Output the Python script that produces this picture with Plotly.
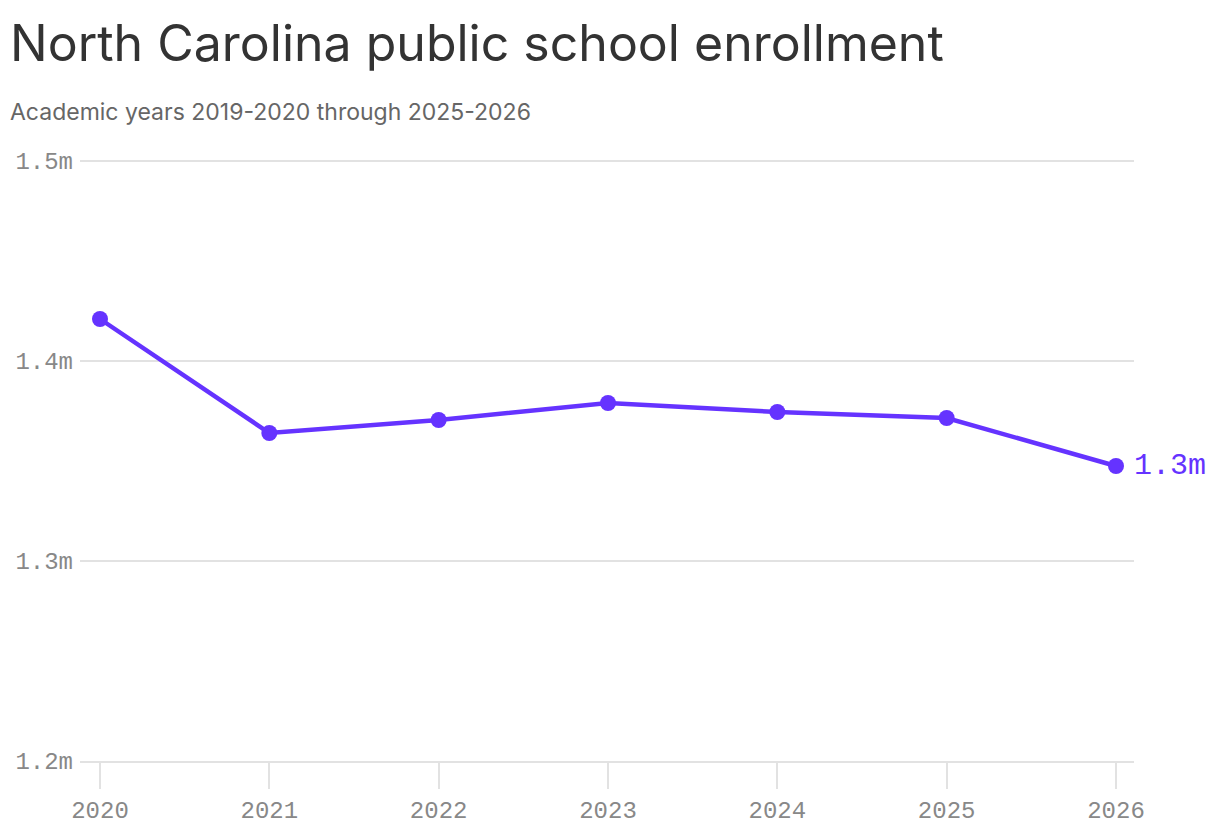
import plotly.graph_objects as go

years = [2020, 2021, 2022, 2023, 2024, 2025, 2026]
enrollment_m = [1.421, 1.364, 1.3705, 1.379, 1.3745, 1.3715, 1.3475]
y_ticks = [1.2, 1.3, 1.4, 1.5]
y_tick_text = ["1.2m", "1.3m", "1.4m", "1.5m"]
last_label = "1.3m"
title = "North Carolina public school enrollment"
subtitle = "Academic years 2019-2020 through 2025-2026"

PURPLE = "#6533FF"
GRID = "#e2e2e2"
MONO = "Liberation Mono"
OFF = 8  # page body margin
PADY = 3  # extra px at top so the top gridline is drawn
W, H = 1220, 830
L, R, T, B = 80 - OFF, 86 + OFF, 161 - OFF - PADY, 69 + OFF
pw = W - L - R
ph = H - T - B
dy = 0.3 * PADY / 600

fig = go.Figure()
fig.add_trace(go.Scatter(
    x=years, y=enrollment_m, mode="lines+markers",
    line=dict(color=PURPLE, width=4.5),
    marker=dict(color=PURPLE, size=16),
    cliponaxis=False, hoverinfo="skip",
))

fig.add_annotation(
    x=years[-1], y=enrollment_m[-1], text=last_label, showarrow=False,
    xanchor="left", yanchor="middle", xshift=16,
    font=dict(family=MONO, size=30, color=PURPLE),
)

fig.add_annotation(
    xref="paper", yref="paper", x=(0 - L) / pw, y=(H - B - (43 - OFF)) / ph,
    text=title, showarrow=False, xanchor="left", yanchor="middle",
    font=dict(family="Inter", size=50, color="#333333"),
)
fig.add_annotation(
    xref="paper", yref="paper", x=(0 - L) / pw, y=(H - B - (112 - OFF)) / ph,
    text=subtitle, showarrow=False, xanchor="left", yanchor="middle",
    font=dict(family="Inter", size=23, color="#666666"),
)

fig.update_layout(
    width=W, height=H,
    margin=dict(l=L, r=R, t=T, b=B, pad=0),
    paper_bgcolor="white", plot_bgcolor="white",
    showlegend=False,
    xaxis=dict(
        range=[2020 - 20 / (1016 / 6), 2026 + 18 / (1016 / 6)],
        tickmode="array", tickvals=years, ticktext=[str(y) for y in years],
        showgrid=False, zeroline=False,
        showline=True, linecolor=GRID, linewidth=2,
        ticks="outside", ticklen=26, tickwidth=2, tickcolor=GRID,
        tickfont=dict(family=MONO, size=24, color="#888888"),
        automargin=False,
    ),
    yaxis=dict(
        range=[1.2, 1.5 + dy], tickmode="array", tickvals=y_ticks, ticktext=y_tick_text,
        showgrid=True, gridcolor=GRID, gridwidth=2, zeroline=False, showline=False,
        ticks="", ticklabelstandoff=6,
        tickfont=dict(family=MONO, size=24, color="#888888"),
        automargin=False,
    ),
)

fig.write_html("out.html")
